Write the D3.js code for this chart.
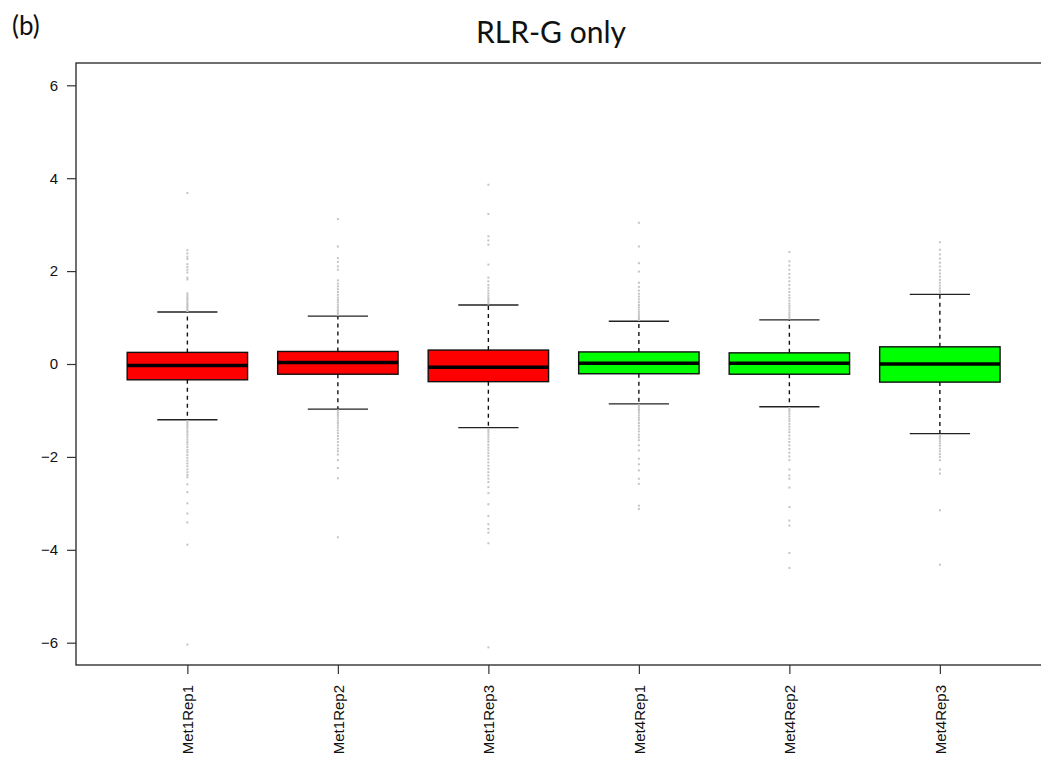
<!DOCTYPE html>
<html>
<head>
<meta charset="utf-8">
<script src="https://cdn.jsdelivr.net/npm/d3@7"></script>
<style>
  html, body { margin: 0; padding: 0; background: #fff; }
  svg { display: block; }
</style>
</head>
<body>
<svg id="chart" width="1041" height="758"></svg>
<script>
// Sample names and group colours
const samples = ["Met1Rep1", "Met1Rep2", "Met1Rep3", "Met4Rep1", "Met4Rep2", "Met4Rep3"];
const fills = ["#ff0000", "#ff0000", "#ff0000", "#00ff00", "#00ff00", "#00ff00"];

// Five-number summaries per sample
const lowerWhisker = [-1.20, -0.97, -1.37, -0.86, -0.92, -1.50];
const q1           = [-0.34, -0.22, -0.38, -0.21, -0.22, -0.39];
const median       = [-0.03,  0.03, -0.07,  0.015, 0.015, 0.00];
const q3           = [ 0.25,  0.27,  0.30,  0.26,  0.24,  0.37];
const upperWhisker = [ 1.12,  1.03,  1.27,  0.92,  0.95,  1.50];

// Points beyond the whiskers
const outliersMet1Rep1 = [1.14,1.17,1.2,1.23,1.26,1.29,1.32,1.36,1.4,1.44,1.48,1.52,1.82,1.86,1.97,2.03,2.09,2.15,2.26,2.31,2.38,2.45,3.68,
  -1.23,-1.27,-1.31,-1.35,-1.39,-1.44,-1.48,-1.53,-1.58,-1.63,-1.68,-1.73,-1.79,-1.85,-1.9,-1.96,-2.02,-2.08,-2.14,-2.2,-2.27,-2.33,-2.39,-2.44,-2.59,-2.76,-3.0,-3.22,-3.41,-3.89,-6.04];
const outliersMet1Rep2 = [1.06,1.1,1.14,1.18,1.23,1.28,1.33,1.38,1.43,1.49,1.55,1.61,1.67,1.73,1.8,2.03,2.1,2.2,2.28,2.53,3.12,
  -1.0,-1.04,-1.08,-1.12,-1.17,-1.22,-1.27,-1.32,-1.37,-1.43,-1.49,-1.55,-1.61,-1.68,-1.75,-1.82,-1.88,-1.95,-2.07,-2.24,-2.46,-3.73];
const outliersMet1Rep3 = [1.3,1.34,1.38,1.42,1.47,1.52,1.58,1.64,1.7,1.78,1.86,2.14,2.57,2.66,2.75,3.23,3.86,
  -1.4,-1.44,-1.48,-1.53,-1.58,-1.63,-1.68,-1.74,-1.8,-1.86,-1.92,-1.98,-2.05,-2.12,-2.19,-2.26,-2.33,-2.4,-2.47,-2.54,-2.65,-2.78,-3.02,-3.27,-3.45,-3.55,-3.63,-3.86,-6.10];
const outliersMet4Rep1 = [0.95,0.99,1.03,1.07,1.12,1.17,1.22,1.27,1.33,1.39,1.45,1.51,1.58,1.66,1.75,1.99,2.17,2.53,3.04,
  -0.89,-0.93,-0.97,-1.01,-1.06,-1.11,-1.16,-1.21,-1.27,-1.33,-1.39,-1.45,-1.52,-1.58,-1.64,-1.75,-1.86,-2.04,-2.16,-2.29,-2.47,-2.58,-3.05,-3.12];
const outliersMet4Rep2 = [0.98,1.02,1.06,1.1,1.15,1.2,1.25,1.3,1.36,1.42,1.48,1.55,1.62,1.7,1.78,1.86,1.94,2.03,2.12,2.21,2.41,
  -0.95,-0.99,-1.03,-1.08,-1.13,-1.18,-1.23,-1.29,-1.35,-1.41,-1.47,-1.54,-1.61,-1.68,-1.75,-1.83,-1.91,-1.99,-2.07,-2.27,-2.4,-2.47,-2.66,-3.08,-3.37,-3.48,-4.07,-4.39];
const outliersMet4Rep3 = [1.53,1.58,1.63,1.69,1.75,1.81,1.88,1.95,2.02,2.1,2.18,2.27,2.36,2.46,2.62,
  -1.53,-1.57,-1.61,-1.66,-1.71,-1.76,-1.82,-1.88,-1.94,-2.0,-2.07,-2.27,-2.36,-3.15,-4.32];
const outliers = [outliersMet1Rep1, outliersMet1Rep2, outliersMet1Rep3, outliersMet4Rep1, outliersMet4Rep2, outliersMet4Rep3];

const yTicks = [-6, -4, -2, 0, 2, 4, 6];

const svg = d3.select("#chart");

// Plot region (frame runs off the right edge)
const plotLeft = 76, plotTop = 63, plotBottom = 665;
const step = 150.5;
const x = d3.scaleLinear().domain([0.26, 6.74]).range([plotLeft, plotLeft + 6.48 * step]);
const y = d3.scaleLinear().domain([-6.48, 6.48]).range([plotBottom, plotTop]);
const boxW = 0.8 * step;
const capW = 0.4 * step;

// Frame
svg.append("rect")
  .attr("x", plotLeft).attr("y", plotTop)
  .attr("width", x(6.74) - plotLeft).attr("height", plotBottom - plotTop)
  .attr("fill", "none").attr("stroke", "#222").attr("stroke-width", 1.3);

// Title and panel letter
svg.append("text")
  .attr("x", 551).attr("y", 43)
  .attr("text-anchor", "middle")
  .attr("font-family", "Lato, 'Open Sans', sans-serif")
  .attr("font-size", 30)
  .attr("fill", "#111")
  .text("RLR-G only");
svg.append("text")
  .attr("x", 12).attr("y", 35)
  .attr("font-family", "Lato, 'Open Sans', sans-serif")
  .attr("font-size", 26)
  .attr("fill", "#111")
  .text("(b)");

// Y axis
const yAxis = d3.axisLeft(y)
  .tickValues(yTicks)
  .tickSize(9)
  .tickPadding(9)
  .tickFormat(d => d < 0 ? "\u2212" + Math.abs(d) : String(d));
const gy = svg.append("g").attr("transform", `translate(${plotLeft},0)`).call(yAxis);
gy.select(".domain").remove();
gy.selectAll(".tick line").attr("stroke", "#333").attr("stroke-width", 1.2);
gy.selectAll(".tick text")
  .attr("font-family", "'Liberation Sans', Arial, sans-serif")
  .attr("font-size", 15).attr("fill", "#111");

// X axis with rotated sample names
const xAxis = d3.axisBottom(x)
  .tickValues(d3.range(1, samples.length + 1))
  .tickSize(9)
  .tickFormat((d, i) => samples[i]);
const gx = svg.append("g").attr("transform", `translate(0,${plotBottom})`).call(xAxis);
gx.select(".domain").remove();
gx.selectAll(".tick line").attr("stroke", "#333").attr("stroke-width", 1.2);
gx.selectAll(".tick text")
  .attr("font-family", "'Liberation Sans', Arial, sans-serif")
  .attr("font-size", 15).attr("fill", "#111")
  .attr("text-anchor", "end")
  .attr("dy", "0.35em")
  .attr("transform", "translate(0,20) rotate(-90)")
  .attr("x", 0).attr("y", 0);

// Boxes
const boxes = svg.append("g");
samples.forEach((name, i) => {
  const cx = x(i + 1);
  const g = boxes.append("g");

  // whiskers (dashed)
  g.append("line")
    .attr("x1", cx).attr("x2", cx)
    .attr("y1", y(q3[i])).attr("y2", y(upperWhisker[i]))
    .attr("stroke", "#111").attr("stroke-width", 1.4).attr("stroke-dasharray", "4,4");
  g.append("line")
    .attr("x1", cx).attr("x2", cx)
    .attr("y1", y(q1[i])).attr("y2", y(lowerWhisker[i]))
    .attr("stroke", "#111").attr("stroke-width", 1.4).attr("stroke-dasharray", "4,4");

  // staples
  [upperWhisker[i], lowerWhisker[i]].forEach(v => {
    g.append("line")
      .attr("x1", cx - capW / 2).attr("x2", cx + capW / 2)
      .attr("y1", y(v)).attr("y2", y(v))
      .attr("stroke", "#222").attr("stroke-width", 1.3);
  });

  // box
  g.append("rect")
    .attr("x", cx - boxW / 2).attr("width", boxW)
    .attr("y", y(q3[i])).attr("height", y(q1[i]) - y(q3[i]))
    .attr("fill", fills[i]).attr("stroke", "#111").attr("stroke-width", 1.4);

  // median
  g.append("line")
    .attr("x1", cx - boxW / 2).attr("x2", cx + boxW / 2)
    .attr("y1", y(median[i])).attr("y2", y(median[i]))
    .attr("stroke", "#000").attr("stroke-width", 3.5);

  // outliers
  g.selectAll("rect.pt").data(outliers[i]).enter().append("rect")
    .attr("class", "pt")
    .attr("x", cx - 1).attr("width", 2)
    .attr("y", d => y(d) - 1).attr("height", 2)
    .attr("fill", "#c4c4c4");
});
</script>
</body>
</html>
